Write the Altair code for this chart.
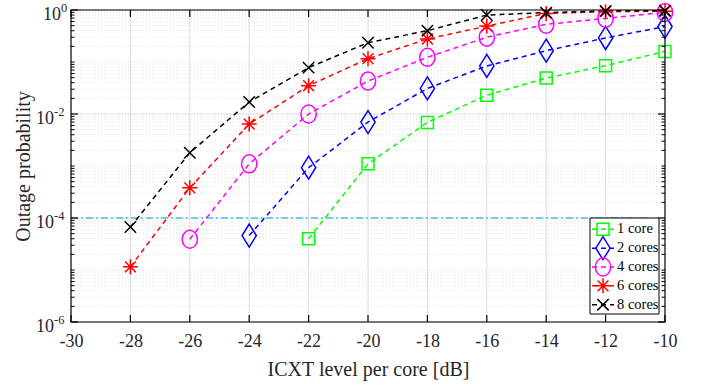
import altair as alt
import pandas as pd

# ---------------- data ----------------
x_vals = [-28, -26, -24, -22, -20, -18, -16, -14, -12, -10]
series_names = ["1 core", "2 cores", "4 cores", "6 cores", "8 cores"]
core1 = [4.0e-5, 1.1e-3, 6.9e-3, 2.3e-2, 4.9e-2, 8.5e-2, 0.16]            # from -22
core2 = [4.6e-5, 9.3e-4, 7.0e-3, 3.1e-2, 8.4e-2, 0.165, 0.29, 0.48]       # from -24
core4 = [3.9e-5, 1.1e-3, 1.0e-2, 4.3e-2, 0.123, 0.30, 0.53, 0.69, 0.90]   # from -26
core6 = [1.15e-5, 3.8e-4, 6.4e-3, 3.5e-2, 0.116, 0.277, 0.49, 0.86, 0.93, 0.95]
core8 = [6.7e-5, 1.8e-3, 1.7e-2, 7.8e-2, 0.235, 0.40, 0.80, 0.89, 0.96, 0.97]
threshold = 1e-4
threshold_x = [-30, -10.6]

x_ticks = [-30, -28, -26, -24, -22, -20, -18, -16, -14, -12, -10]
y_major = [1e-6, 1e-4, 1e-2, 1.0]
y_exponents = ["-6", "-4", "-2", "0"]

# ---------------- tables ----------------
all_series = [core1, core2, core4, core6, core8]
rows = []
for name, vals in zip(series_names, all_series):
    xs = x_vals[len(x_vals) - len(vals):]
    for xv, yv in zip(xs, vals):
        rows.append({"series": name, "x": xv, "y": yv})
df = pd.DataFrame(rows)

y_minor = [m * 10.0 ** k for k in range(-6, 0) for m in range(1, 10)
           if not any(abs(m * 10.0 ** k - v) < 1e-12 for v in y_major)]
df_minor = pd.DataFrame({"v": y_minor})
df_major = pd.DataFrame({"v": y_major, "e": y_exponents})
df_xt = pd.DataFrame({"x": x_ticks})
df_xgrid = pd.DataFrame({"x": x_ticks[1:-1]})
df_thr = pd.DataFrame({"x0": [threshold_x[0]], "x1": [threshold_x[1]], "v": [threshold]})
df_leg = pd.DataFrame({"series": series_names, "i": list(range(len(series_names)))})

W, H = 594, 312
FONT = "Liberation Serif"
TXT = "#262626"

colors = ["#00FF00", "#0000FF", "#FF00FF", "#FF0000", "#000000"]
shapes = [
    "M-1,-1H1V1H-1Z",
    "M0,-1L0.62,0L0,1L-0.62,0Z",
    "M0,-1A0.85,1 0 1,1 0,1A0.85,1 0 1,1 0,-1Z",
    "M-1,0L1,0M0,-1L0,1M-0.72,-0.72L0.72,0.72M-0.72,0.72L0.72,-0.72",
    "M-1,-1L1,1M-1,1L1,-1",
]
sizes = [144, 529, 324, 225, 130]

xscale = alt.Scale(domain=[-30, -10], nice=False, zero=False)
yscale = alt.Scale(type="log", domain=[1e-6, 1.0], nice=False)
xaxis = alt.Axis(values=x_ticks, labelExpr="'' + datum.value", labelFont=FONT, labelFontSize=18,
                 labelColor=TXT, ticks=False, domain=False, grid=False,
                 labelPadding=10, title="ICXT level per core [dB]", titleFont=FONT,
                 titleFontSize=20, titleFontWeight="normal", titleColor=TXT,
                 titlePadding=9, labelFlush=False)
yaxis = alt.Axis(labels=False, ticks=False, domain=False, grid=False,
                 title="Outage probability", titleFont=FONT, titleFontSize=20,
                 titleFontWeight="normal", titleColor=TXT, titlePadding=38,
                 minExtent=0)

color_enc = alt.Color("series:N", scale=alt.Scale(domain=series_names, range=colors), legend=None)
shape_enc = alt.Shape("series:N", scale=alt.Scale(domain=series_names, range=shapes), legend=None)
size_enc = alt.Size("series:N", scale=alt.Scale(type="ordinal", domain=series_names, range=sizes), legend=None)

# grids
minor_grid = alt.Chart(df_minor).mark_rule(color="#D9D9D9", strokeDash=[1, 2], strokeWidth=0.8).encode(
    y=alt.Y("v:Q", scale=yscale, axis=yaxis), x=alt.value(0), x2=alt.value(W))
major_ygrid = alt.Chart(df_major).mark_rule(color="#DCDCDC", strokeWidth=1).encode(
    y=alt.Y("v:Q", scale=yscale, axis=yaxis), x=alt.value(0), x2=alt.value(W))
major_xgrid = alt.Chart(df_xgrid).mark_rule(color="#DCDCDC", strokeWidth=1).encode(
    x=alt.X("x:Q", scale=xscale, axis=xaxis), y=alt.value(0), y2=alt.value(H))

thr = alt.Chart(df_thr).mark_rule(color="#4DBEEE", strokeDash=[7, 3, 2, 3], strokeWidth=1.5).encode(
    x=alt.X("x0:Q", scale=xscale, axis=xaxis), x2="x1:Q", y=alt.Y("v:Q", scale=yscale, axis=yaxis))

lines = alt.Chart(df).mark_line(strokeDash=[5, 4], strokeWidth=1.5).encode(
    x=alt.X("x:Q", scale=xscale, axis=xaxis), y=alt.Y("y:Q", scale=yscale, axis=yaxis),
    color=color_enc, detail="series:N")
points = alt.Chart(df).mark_point(filled=False, strokeWidth=1.5, opacity=1).encode(
    x=alt.X("x:Q", scale=xscale, axis=xaxis), y=alt.Y("y:Q", scale=yscale, axis=yaxis),
    color=color_enc, shape=shape_enc, size=size_enc)

# frame
frame = alt.Chart(df_major.head(1)).mark_rect(fill=None, stroke="#000000", strokeWidth=1.2).encode(
    x=alt.value(0), x2=alt.value(W), y=alt.value(0), y2=alt.value(H))

# ticks (inward)
xt_bot = alt.Chart(df_xt).mark_rule(color="#000000", strokeWidth=1.2).encode(
    x=alt.X("x:Q", scale=xscale, axis=xaxis), y=alt.value(H), y2=alt.value(H - 7))
xt_top = alt.Chart(df_xt).mark_rule(color="#000000", strokeWidth=1.2).encode(
    x=alt.X("x:Q", scale=xscale, axis=xaxis), y=alt.value(0), y2=alt.value(7))
yt_maj_l = alt.Chart(df_major).mark_rule(color="#000000", strokeWidth=1.2).encode(
    y=alt.Y("v:Q", scale=yscale, axis=yaxis), x=alt.value(0), x2=alt.value(7))
yt_maj_r = alt.Chart(df_major).mark_rule(color="#000000", strokeWidth=1.2).encode(
    y=alt.Y("v:Q", scale=yscale, axis=yaxis), x=alt.value(W), x2=alt.value(W - 7))
yt_min_l = alt.Chart(df_minor).mark_rule(color="#000000", strokeWidth=1).encode(
    y=alt.Y("v:Q", scale=yscale, axis=yaxis), x=alt.value(0), x2=alt.value(3.5))
yt_min_r = alt.Chart(df_minor).mark_rule(color="#000000", strokeWidth=1).encode(
    y=alt.Y("v:Q", scale=yscale, axis=yaxis), x=alt.value(W), x2=alt.value(W - 3.5))

# y tick labels 10^k
ylab_base = alt.Chart(df_major).transform_calculate(
    lx="-5.5 - (length(datum.e) == 1 ? 4.5 : 11.5)").mark_text(
    text="10", font=FONT, fontSize=18, color=TXT, align="right", baseline="middle", dy=5).encode(
    y=alt.Y("v:Q", scale=yscale, axis=yaxis), x=alt.X("lx:Q", scale=None))
ylab_exp = alt.Chart(df_major).transform_calculate(
    lx="-5.5 - (length(datum.e) == 1 ? 4.5 : 11.5)").mark_text(
    font=FONT, fontSize=12.5, color=TXT, align="left", baseline="middle", dy=-2.5).encode(
    y=alt.Y("v:Q", scale=yscale, axis=yaxis), x=alt.X("lx:Q", scale=None), text="e:N")

# legend
leg_box = alt.Chart(df_major.head(1)).mark_rect(fill="white", stroke="#000000", strokeWidth=1).encode(
    x=alt.value(519), x2=alt.value(588), y=alt.value(208), y2=alt.value(304))
leg_base = alt.Chart(df_leg).transform_calculate(ly="219.3 + 18.85 * datum.i")
leg_lines = leg_base.mark_rule(strokeDash=[5, 4], strokeWidth=1.5).encode(
    x=alt.value(521), x2=alt.value(543), y=alt.Y("ly:Q", scale=None), color=color_enc)
leg_pts = leg_base.mark_point(filled=False, strokeWidth=1.5, opacity=1).encode(
    x=alt.value(532), y=alt.Y("ly:Q", scale=None), color=color_enc, shape=shape_enc, size=size_enc)
leg_txt = leg_base.mark_text(font=FONT, fontSize=14.5, color="#000000", align="left", baseline="middle").encode(
    x=alt.value(546), y=alt.Y("ly:Q", scale=None), text="series:N")

chart = alt.layer(
    minor_grid, major_ygrid, major_xgrid, thr, lines, points, frame,
    xt_bot, xt_top, yt_maj_l, yt_maj_r, yt_min_l, yt_min_r,
    ylab_base, ylab_exp, leg_box, leg_lines, leg_pts, leg_txt,
).properties(
    width=W, height=H, autosize="none",
    padding={"left": 71, "top": 10, "right": 36, "bottom": 66},
    background="white",
).configure_view(stroke=None)

chart.save("out.html", embed_options={"renderer": "svg", "actions": False})
